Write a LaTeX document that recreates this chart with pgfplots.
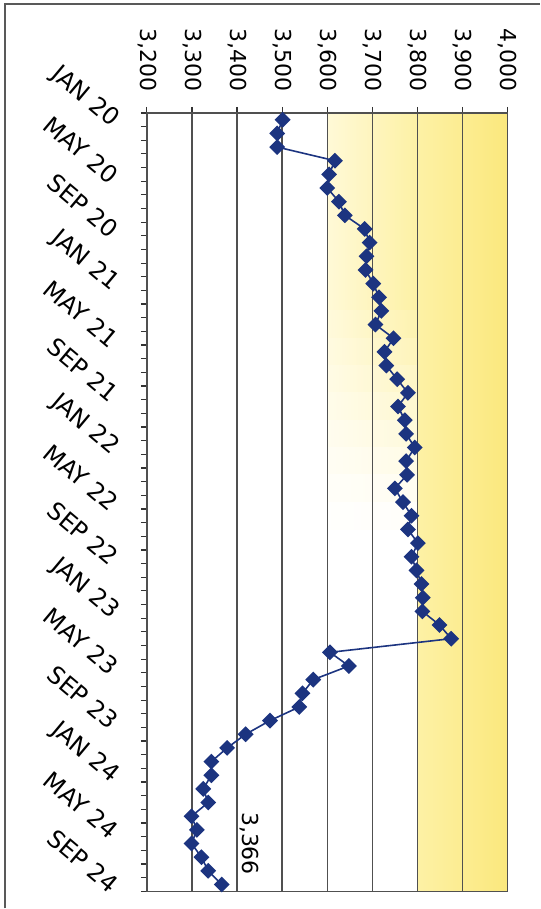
\documentclass[border=0pt]{standalone}
\usepackage{fontspec}
\setmainfont{DejaVu Sans}
\usepackage{pgfplots}
\pgfplotsset{compat=1.18}
\definecolor{navy}{RGB}{28,52,128}
\definecolor{gridc}{RGB}{80,80,80}
\definecolor{yl}{RGB}{251,232,125}
\definecolor{ylm}{RGB}{253,241,165}
\definecolor{ylp}{RGB}{255,249,215}
\pgfplotstableread{
idx val
0 3501
1 3489
2 3489
3 3617
4 3604
5 3600
6 3626
7 3639
8 3683
9 3694
10 3687
11 3685
12 3702
13 3715
14 3720
15 3707
16 3747
17 3727
18 3731
19 3755
20 3779
21 3757
22 3772
23 3775
24 3794
25 3775
26 3777
27 3750
28 3768
29 3787
30 3779
31 3801
32 3787
33 3798
34 3809
35 3812
36 3811
37 3849
38 3875
39 3606
40 3648
41 3569
42 3545
43 3538
44 3473
45 3419
46 3378
47 3343
48 3343
49 3325
50 3336
51 3299
52 3311
53 3299
54 3321
55 3336
56 3366
}\datatable
\begin{document}
\begin{tikzpicture}
\path (0,0) rectangle (270pt,-454.5pt);
\draw[gray!70!black, line width=0.7pt] (2.5pt,-454.5pt) -- (2.5pt,-2pt) -- (270pt,-2pt);
\begin{axis}[
  set layers,
  at={(73.5pt,-56.5pt)}, anchor=north west,
  scale only axis, width=180.5pt, height=389.5pt,
  xmin=3200, xmax=4000, ymin=-0.5, ymax=56.5, y dir=reverse,
  xtick={3200,3300,...,4000},
  xtick pos=right, xticklabel pos=right,
  ytick pos=left,
  ytick={-0.5,0.5,...,56.5}, yticklabels={},
  extra y ticks={0,4,...,56},
  extra y tick labels={JAN 20,MAY 20,SEP 20,JAN 21,MAY 21,SEP 21,JAN 22,MAY 22,SEP 22,JAN 23,MAY 23,SEP 23,JAN 24,MAY 24,SEP 24},
  extra y tick style={major tick length=0pt},
  tick align=outside, major tick length=3pt,
  xmajorgrids, grid style={gridc, line width=0.7pt},
  axis line style={gridc, line width=0.8pt},
  tick style={black!80, line width=0.6pt},
  ticklabel style={font=\fontsize{11}{13}\selectfont},
  xticklabel style={rotate=-90, anchor=east},
  yticklabel style={rotate=-40, anchor=12, font=\fontsize{12}{14}\selectfont},
  xticklabel shift=4pt, yticklabel shift=10pt,
  /pgf/number format/1000 sep={,},
  /pgf/number format/assume math mode=true,
]
\begin{pgfonlayer}{axis background}
\fill[left color=ylm, right color=yl] (axis cs:3800,-0.5) rectangle (axis cs:4000,56.5);
\fill[left color=ylp, right color=ylm] (axis cs:3600,-0.5) rectangle (axis cs:3800,14.2);
\fill[left color=ylp!88!white, right color=ylm!88!white] (axis cs:3600,14) rectangle (axis cs:3800,16.2);
\fill[left color=ylp!76!white, right color=ylm!76!white] (axis cs:3600,16) rectangle (axis cs:3800,18.2);
\fill[left color=ylp!64!white, right color=ylm!64!white] (axis cs:3600,18) rectangle (axis cs:3800,20.2);
\fill[left color=ylp!52!white, right color=ylm!52!white] (axis cs:3600,20) rectangle (axis cs:3800,22.2);
\fill[left color=ylp!40!white, right color=ylm!40!white] (axis cs:3600,22) rectangle (axis cs:3800,24.2);
\fill[left color=ylp!28!white, right color=ylm!28!white] (axis cs:3600,24) rectangle (axis cs:3800,26.2);
\fill[left color=ylp!16!white, right color=ylm!16!white] (axis cs:3600,26) rectangle (axis cs:3800,28.2);
\fill[left color=ylp!6!white, right color=ylm!6!white] (axis cs:3600,28) rectangle (axis cs:3800,30);
\end{pgfonlayer}
\addplot[navy, line width=0.8pt, mark=square*, mark size=2.4pt, mark options={rotate=45, fill=navy, draw=navy, solid}] table[x=val, y=idx] {\datatable};
\node[rotate=-90, font=\fontsize{11}{13}\selectfont] at (axis cs:3428,53) {3,366};
\end{axis}
\end{tikzpicture}
\end{document}
